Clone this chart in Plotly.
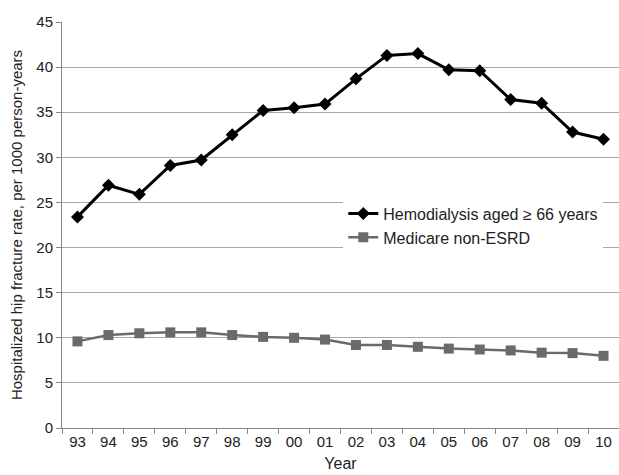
import plotly.graph_objects as go

years = ["93", "94", "95", "96", "97", "98", "99", "00", "01",
         "02", "03", "04", "05", "06", "07", "08", "09", "10"]
hemodialysis = [23.4, 26.9, 25.9, 29.1, 29.7, 32.5, 35.2, 35.5, 35.9,
                38.7, 41.3, 41.5, 39.7, 39.6, 36.4, 36.0, 32.8, 32.0]
medicare = [9.6, 10.3, 10.5, 10.6, 10.6, 10.3, 10.1, 10.0, 9.8,
            9.2, 9.2, 9.0, 8.8, 8.7, 8.6, 8.35, 8.3, 8.0]
y_ticks = [0, 5, 10, 15, 20, 25, 30, 35, 40, 45]

font = "Liberation Sans, Arial, sans-serif"

fig = go.Figure()
fig.add_trace(go.Scatter(
    x=years, y=hemodialysis, mode="lines+markers",
    name="Hemodialysis aged \u2265 66 years",
    line=dict(color="#000000", width=3),
    marker=dict(symbol="diamond", size=10, color="#000000"),
))
fig.add_trace(go.Scatter(
    x=years, y=medicare, mode="lines+markers",
    name="Medicare non-ESRD",
    line=dict(color="#6a6a6a", width=2.5),
    marker=dict(symbol="square", size=10, color="#6a6a6a"),
))

fig.update_layout(
    width=619, height=475,
    margin=dict(l=62, r=0, t=22, b=47),
    paper_bgcolor="white", plot_bgcolor="white",
    font=dict(family=font, size=15, color="#222222"),
    showlegend=True,
    legend=dict(
        x=0.505, y=0.57, xanchor="left", yanchor="top",
        bgcolor="rgba(255,255,255,1)",
        font=dict(family=font, size=16, color="#222222"),
        tracegroupgap=0, itemwidth=30,
    ),
)
fig.update_xaxes(
    type="category", categoryorder="array", categoryarray=years,
    tickson="boundaries", ticks="outside", ticklen=5, tickcolor="#888888",
    showline=True, linecolor="#888888", linewidth=1,
    showgrid=False,
    title=dict(text="Year", font=dict(family=font, size=16), standoff=8),
    range=[-0.5, len(years) - 0.5],
)
fig.update_yaxes(
    range=[0, 45], tickvals=y_ticks,
    ticks="outside", ticklen=5, tickcolor="#888888",
    showline=True, linecolor="#888888", linewidth=1,
    showgrid=True, gridcolor="#a8a8a8", gridwidth=1,
    zeroline=False,
    title=dict(text="Hospitalized hip fracture rate, per 1000 person-years",
               font=dict(family=font, size=15), standoff=10),
)

fig.write_html(
    "out.html",
    config={"displayModeBar": False},
    post_script="document.body.style.margin='0px';document.body.style.overflow='hidden';",
)
